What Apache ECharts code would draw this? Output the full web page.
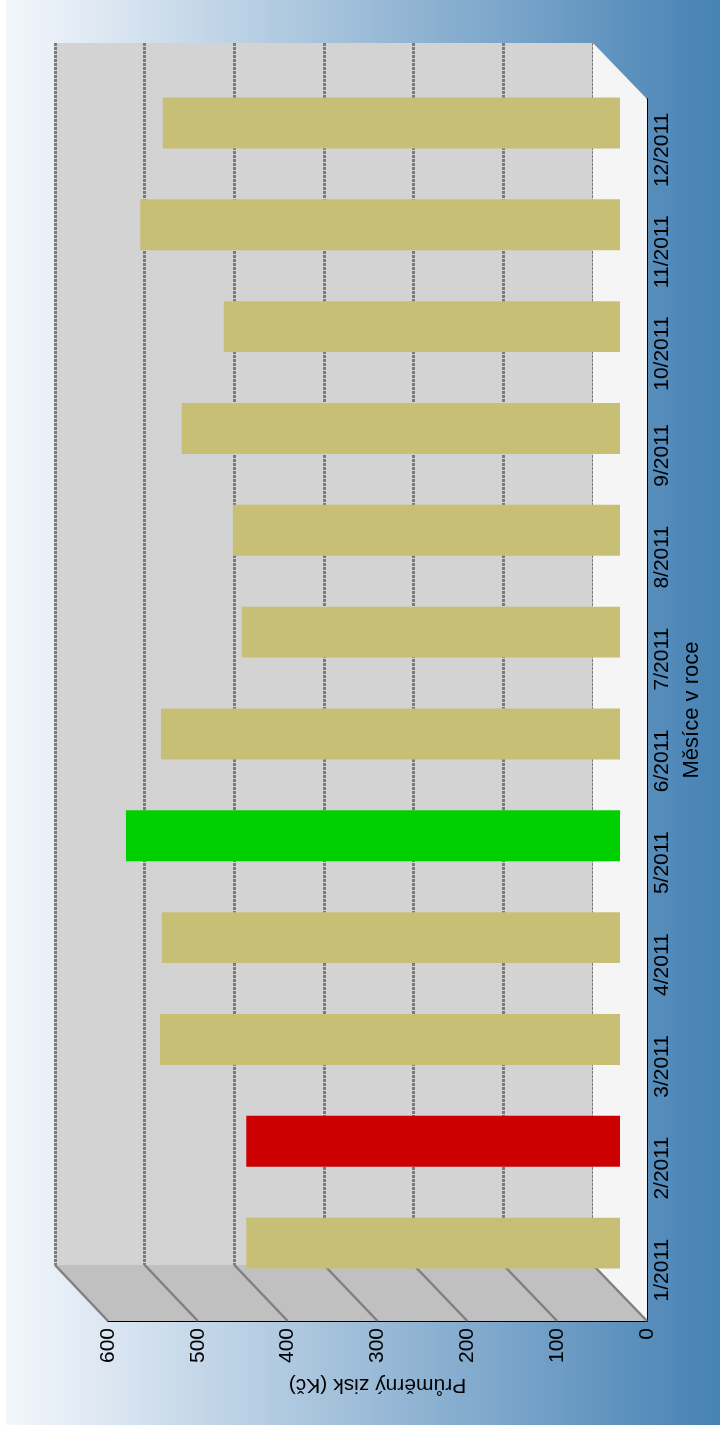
<!DOCTYPE html>
<html><head><meta charset="utf-8">
<script src="https://cdn.jsdelivr.net/npm/echarts@6/dist/echarts.min.js"></script>
<style>html,body{margin:0;padding:0;background:#fff}#c{width:720px;height:1432px}</style>
</head><body><div id="c"></div>
<script>
const categories = ['1/2011','2/2011','3/2011','4/2011','5/2011','6/2011','7/2011','8/2011','9/2011','10/2011','11/2011','12/2011'];
const profits = [416, 416, 512, 510, 550, 511, 421, 431, 488, 441, 534, 509];
const barColors = ['#c8bf76','#cc0000','#c8bf76','#c8bf76','#00d000','#c8bf76','#c8bf76','#c8bf76','#c8bf76','#c8bf76','#c8bf76','#c8bf76'];
const valueTicks = [0, 100, 200, 300, 400, 500, 600];
const valueAxisName = 'Průměrný zisk (Kč)';
const categoryAxisName = 'Měsíce v roce';

const FONT = '"Liberation Sans", Arial, sans-serif';
const chart = echarts.init(document.getElementById('c'));
const vMin = valueTicks[0], vMax = valueTicks[valueTicks.length - 1], vStep = valueTicks[1] - valueTicks[0];

chart.setOption({
  animation: false,
  textStyle: { fontFamily: FONT },
  grid: [
    { left: 55, right: 127, top: 43, bottom: 167, show: true, backgroundColor: '#d3d3d3', borderWidth: 0 },
    { left: 81, right: 100, top: 72, bottom: 138 },
    { left: 108, right: 73, top: 99, bottom: 111 }
  ],
  xAxis: [
    { gridIndex: 0, type: 'value', inverse: true, min: vMin, max: vMax, interval: vStep,
      axisLine: { show: false }, axisTick: { show: false }, axisLabel: { show: false },
      splitLine: { show: true, lineStyle: { color: '#7a7a7a', width: 3, type: [3, 1] } } },
    { gridIndex: 1, type: 'value', inverse: true, min: vMin, max: vMax, show: false, splitLine: { show: false } },
    { gridIndex: 2, type: 'value', inverse: true, min: vMin, max: vMax, interval: vStep,
      axisLine: { show: true, lineStyle: { color: '#000', width: 2 } }, axisTick: { show: false },
      splitLine: { show: false },
      axisLabel: { rotate: 90, margin: 7, fontSize: 21, color: '#000', fontFamily: FONT },
      name: valueAxisName, nameLocation: 'middle', nameRotate: 180, nameGap: 53,
      nameTextStyle: { fontSize: 21, color: '#000', fontFamily: FONT } }
  ],
  yAxis: [
    { gridIndex: 0, type: 'category', data: categories, show: false },
    { gridIndex: 1, type: 'category', data: categories, show: false },
    { gridIndex: 2, type: 'category', data: categories, position: 'right',
      axisLine: { show: true, lineStyle: { color: '#000', width: 2 } }, axisTick: { show: false },
      axisLabel: { rotate: 90, margin: 5, fontSize: 21, color: '#000', align: 'center', verticalAlign: 'top', fontFamily: FONT, interval: 0 },
      name: categoryAxisName, nameLocation: 'middle', nameRotate: 90, nameGap: 32,
      nameTextStyle: { fontSize: 22, color: '#000', fontFamily: FONT, align: 'center', verticalAlign: 'top' } }
  ],
  series: [
    { type: 'bar', xAxisIndex: 1, yAxisIndex: 1, barWidth: '50%', z: 5,
      data: profits.map((v, i) => ({ value: v, itemStyle: { color: barColors[i] } })) }
  ]
});

// 3D walls derived from the axes' pixel positions
const backRect = chart.getModel().getComponent('grid', 0).coordinateSystem.getRect();
const frontRect = chart.getModel().getComponent('grid', 2).coordinateSystem.getRect();
const bx = v => chart.convertToPixel({ xAxisIndex: 0 }, v);
const fx = v => chart.convertToPixel({ xAxisIndex: 2 }, v);
const bBot = backRect.y + backRect.height, fBot = frontRect.y + frontRect.height;
const bTop = backRect.y, fTop = frontRect.y;

const graphics = [
  { type: 'rect', z: -10, silent: true, shape: { x: 6, y: 0, width: 714, height: 1425 },
    style: { fill: new echarts.graphic.LinearGradient(0, 0, 1, 0, [
      { offset: 0, color: '#f4f7fc' }, { offset: 1, color: '#4682b4' }]) } },
  { type: 'polygon', z: 1, silent: true,
    shape: { points: [[bx(vMax), bBot], [bx(vMin), bBot], [fx(vMin), fBot], [fx(vMax), fBot]] },
    style: { fill: '#c0c0c0' } },
  { type: 'polygon', z: 1, silent: true,
    shape: { points: [[bx(vMin), bTop], [fx(vMin), fTop], [fx(vMin), fBot], [bx(vMin), bBot]] },
    style: { fill: '#f5f5f5' } }
];
valueTicks.forEach(v => {
  graphics.push({ type: 'line', z: 2, silent: true,
    shape: { x1: bx(v), y1: bBot, x2: fx(v), y2: fBot },
    style: { stroke: '#808080', lineWidth: 2.5 } });
});
chart.setOption({ graphic: graphics });
</script></body></html>
